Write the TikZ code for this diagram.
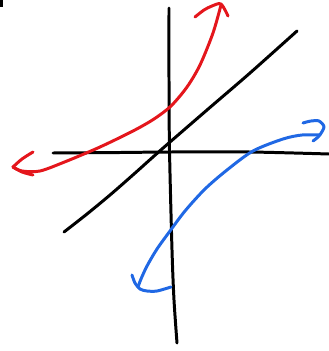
\documentclass[tikz,border=0pt]{standalone}
\definecolor{penred}{RGB}{228,22,28}
\definecolor{penblue}{RGB}{32,104,228}
\tikzset{pen/.style={line width=8.5pt,line cap=round,line join=round}}
\begin{document}
\begin{tikzpicture}[x=0.1cm,y=-0.1cm]
\useasboundingbox (0,0) rectangle (329,351);
% tiny mark top-left
\fill[black] (0,0) rectangle (2.5,7);
% axes
\draw[pen,black] plot[smooth] coordinates {(169,8) (169,80) (169.5,150) (172,250) (174,300) (177,343)};
\draw[pen,black] plot[smooth] coordinates {(53,153) (120,152.5) (170,152) (250,152) (329,154)};
% diagonal y=x
\draw[pen,black] plot[smooth] coordinates {(64,232) (87,214) (110,195) (134,174) (162,149) (207,110) (250,73) (297,31)};
% red curve
\draw[pen,penred] plot[smooth] coordinates {(13,167) (22,171) (40,171) (67,161) (100,147) (133,131) (154,119) (171,106) (187,87) (200,65) (213,33) (221,5)};
\draw[pen,penred] plot[smooth] coordinates {(195,17) (204,10) (212,6) (221,4) (228,16)};
\draw[pen,penred] plot[smooth] coordinates {(33,152) (22,159) (13,167)};
\draw[pen,penred] plot[smooth] coordinates {(13,167) (22,172) (33,175)};
% blue curve
\draw[pen,penblue] plot[smooth] coordinates {(138,287) (141,279) (147,266) (157,249) (170,231) (185,211) (205,189) (227,170) (253,151) (283,139) (302,135) (320,135)};
\draw[pen,penblue] plot[smooth] coordinates {(303,123) (311,121) (319,121) (324,127) (319,136) (313,141)};
\draw[pen,penblue] plot[smooth] coordinates {(132,275) (135,283) (140,289) (147,291) (157,291) (171,287)};
\end{tikzpicture}
\end{document}
